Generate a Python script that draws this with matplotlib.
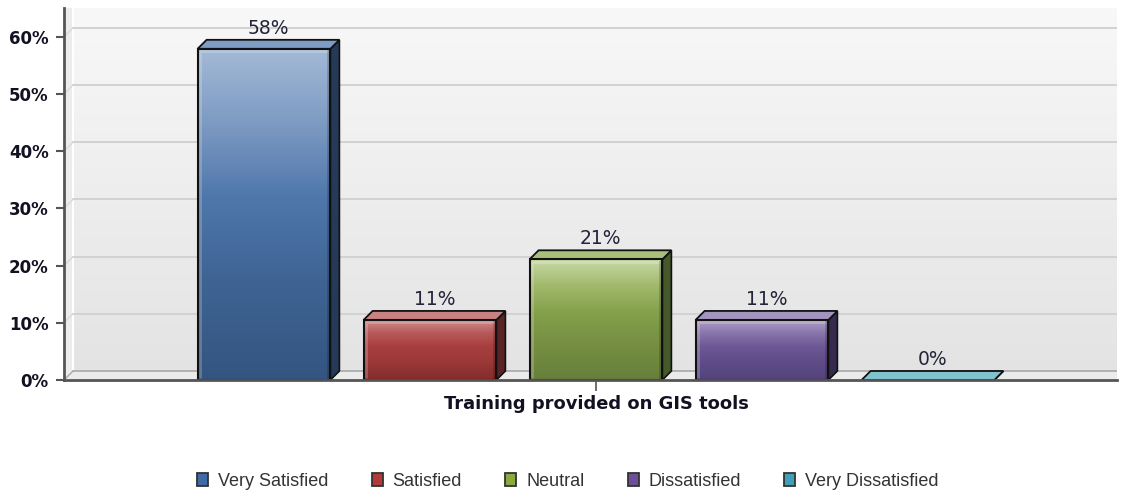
import numpy as np
import matplotlib
matplotlib.use("Agg")
import matplotlib.pyplot as plt
from matplotlib.patches import Polygon, Rectangle
from matplotlib.colors import LinearSegmentedColormap

# ---- data ----
categories = ["Very Satisfied", "Satisfied", "Neutral", "Dissatisfied", "Very Dissatisfied"]
values = [57.9, 10.5, 21.1, 10.5, 0.0]
value_labels = ["58%", "11%", "21%", "11%", "0%"]
y_ticks = [0, 10, 20, 30, 40, 50, 60]
y_tick_labels = ["0%", "10%", "20%", "30%", "40%", "50%", "60%"]
x_title = "Training provided on GIS tools"

# ---- styles ----
# gradient stops from bottom (0) to top (1)
front_grad = [
    ["#345580", "#3f6494", "#4f77ab", "#7e9bc3", "#a3bad6"],
    ["#842c2c", "#9c3838", "#a83f3f", "#b85a5a", "#d09090"],
    ["#66803a", "#768f42", "#83a04a", "#a0b96c", "#c8d8a6"],
    ["#54437a", "#5f4c88", "#6d5795", "#8a77ad", "#b0a2c8"],
    ["#3b8a9a", "#4a9eae", "#5fb0c0", "#7cc2cf", "#9ad2dc"],
]
grad_pos = [0.0, 0.3, 0.55, 0.78, 1.0]
top_colors = ["#7f9dc4", "#c98282", "#a9c07a", "#a495c0", "#80c3cf"]
side_colors = ["#243a58", "#5a2326", "#45592a", "#362a4e", "#2c6a78"]
legend_colors = ["#3f6aa3", "#b23a3a", "#8aaa40", "#6e4e98", "#40a0b8"]

W, H = 1123, 493
fig = plt.figure(figsize=(W / 100, H / 100), dpi=100)
ax_left, ax_right, ax_top, ax_bottom = 64, 1117, 8, 380
ax = fig.add_axes([ax_left / W, 1 - ax_bottom / H, (ax_right - ax_left) / W, (ax_bottom - ax_top) / H])

px_per_pct = 5.72
px_per_cat = 166.0
center_px = 596
xmin = 2 - (center_px - ax_left) / px_per_cat
xmax = 2 + (ax_right - center_px) / px_per_cat
ymax = (ax_bottom - ax_top) / px_per_pct
ax.set_xlim(xmin, xmax)
ax.set_ylim(0, ymax)

# depth offset (pixels -> data)
DEPTH = 9
p0 = ax.transData.transform((0, 0))
q = ax.transData.inverted().transform(p0 + np.array([DEPTH, DEPTH]))
dx, dy = q[0], q[1]
q2 = ax.transData.inverted().transform(p0 + np.array([2.5, 2.5]))
ix, iy = q2[0], q2[1]

# background gradient (back wall)
bg = LinearSegmentedColormap.from_list("bg", ["#e3e3e3", "#f8f8f8"])
grad = np.linspace(0, 1, 256).reshape(-1, 1)
ax.imshow(grad, cmap=bg, origin="lower", extent=(xmin, xmax, 0, ymax), aspect="auto", zorder=0)

# left wall
lw_poly = Polygon([(xmin, 0), (xmin + dx, dy), (xmin + dx, ymax), (xmin, ymax)], closed=True,
                  facecolor="#ececec", edgecolor="none", zorder=0.5)
ax.add_patch(lw_poly)
ax.plot([xmin + dx, xmin + dx], [dy, ymax], color="white", lw=1.5, zorder=0.6)

# gridlines on back wall + side wall diagonals
for v in y_ticks[1:]:
    ax.plot([xmin + dx, xmax], [v + dy, v + dy], color="#d2d2d2", lw=1.4, zorder=0.7)
    ax.plot([xmin, xmin + dx], [v, v + dy], color="#d8d8d8", lw=1.0, zorder=0.7)

# floor
floor = Polygon([(xmin, 0), (xmax, 0), (xmax + dx, dy), (xmin + dx, dy)], closed=True,
                facecolor="#ebebeb", edgecolor="none", zorder=0.8)
ax.add_patch(floor)
ax.plot([xmin + dx, xmax], [dy, dy], color="#a8a8a8", lw=1.2, zorder=0.9)
ax.plot([xmin, xmin + dx], [0, dy], color="#a8a8a8", lw=1.0, zorder=0.9)

# bars
width = 0.8
positions = np.arange(len(values))
for i, (x, v) in enumerate(zip(positions, values)):
    x0, x1 = x - width / 2, x + width / 2
    side = Polygon([(x1, 0), (x1 + dx, dy), (x1 + dx, v + dy), (x1, v)], closed=True,
                   facecolor=side_colors[i], edgecolor="#111111", lw=1.2, zorder=2)
    ax.add_patch(side)
    top = Polygon([(x0, v), (x1, v), (x1 + dx, v + dy), (x0 + dx, v + dy)], closed=True,
                  facecolor=top_colors[i], edgecolor="#111111", lw=1.3, zorder=2.1)
    ax.add_patch(top)
    if v > 0:
        cm = LinearSegmentedColormap.from_list("b%d" % i, list(zip(grad_pos, front_grad[i])))
        g = np.linspace(0, 1, 200).reshape(-1, 1)
        im = ax.imshow(g, cmap=cm, origin="lower", extent=(x0, x1, 0, v), aspect="auto", zorder=2.5)
        clip = Rectangle((x0, 0), width, v, transform=ax.transData)
        im.set_clip_path(clip)
        # bevel highlights
        ax.plot([x0 + ix, x0 + ix, x1 - ix], [iy, v - iy, v - iy], color="white", alpha=0.22,
                lw=2.0, zorder=2.7, solid_capstyle="butt")
        ax.plot([x1 - ix, x1 - ix], [iy, v - iy], color="black", alpha=0.18, lw=2.0, zorder=2.7)
        rect = Rectangle((x0, 0), width, v, facecolor="none", edgecolor="#111111", lw=1.5, zorder=3)
        ax.add_patch(rect)
    ax.annotate(value_labels[i], (x + dx / 2, v + dy), xytext=(0, 1.5), textcoords="offset points",
                ha="center", va="bottom", fontsize=13.5, color="#23233a", family="DejaVu Sans", zorder=4)

# axes styling
for s in ["top", "right"]:
    ax.spines[s].set_visible(False)
for s in ["left", "bottom"]:
    ax.spines[s].set_color("#555555")
    ax.spines[s].set_linewidth(2)
    ax.spines[s].set_zorder(5)

ax.set_yticks(y_ticks)
ax.set_yticklabels(y_tick_labels, fontsize=12, fontweight="bold", family="DejaVu Sans", color="#111122")
ax.tick_params(axis="y", length=6, width=1.5, color="#555555", pad=5)
ax.set_xticks([2])
ax.set_xticklabels([""])
ax.tick_params(axis="x", length=8, width=1.2, color="#555555")
ax.set_xlabel(x_title, fontsize=12.9, fontweight="bold", family="DejaVu Sans", color="#111122")
ax.xaxis.set_label_coords((center_px - ax_left) / (ax_right - ax_left), -(404 - ax_bottom) / (ax_bottom - ax_top))
ax.xaxis.label.set_va("center")

# legend
handles = [Rectangle((0, 0), 1, 1, facecolor=c, edgecolor="#333333", lw=1.3) for c in legend_colors]
leg = fig.legend(handles, categories, loc="center", bbox_to_anchor=(568 / W, 1 - 481 / H), ncol=5,
                 frameon=False, handlelength=0.6, handleheight=0.75, handletextpad=0.55,
                 columnspacing=2.4, prop={"family": "Liberation Sans", "size": 13})
for t in leg.get_texts():
    t.set_color("#333333")

fig.savefig("out.png", dpi=100, facecolor="white")
